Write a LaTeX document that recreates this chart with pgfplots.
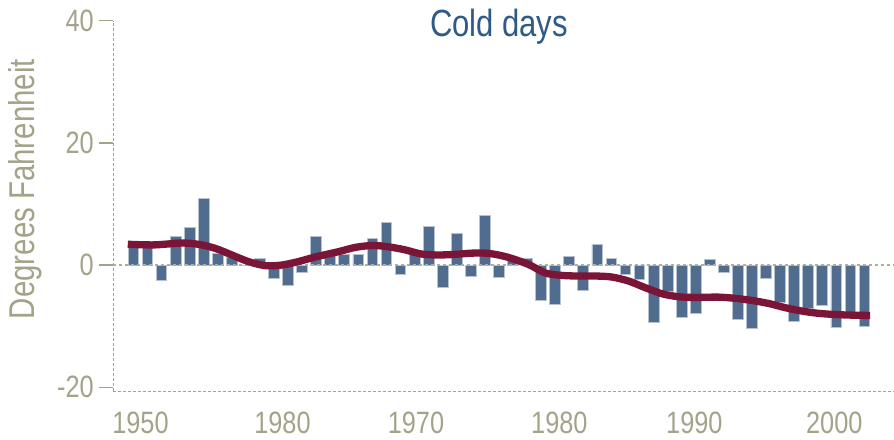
\documentclass[border=0pt]{standalone}
\usepackage{pgfplots}
\pgfplotsset{compat=1.18}
\usepackage{pgfplotstable}
\usepackage{fontspec}
\setmainfont{Liberation Sans}[FakeStretch=0.82]
\definecolor{barblue}{HTML}{506C8F}
\definecolor{baredge}{HTML}{B8C2CF}
\definecolor{maroon}{HTML}{7B1538}
\definecolor{titleblue}{HTML}{2E5A87}
\definecolor{khaki}{HTML}{A3A38A}
\definecolor{zeroline}{HTML}{B0B098}
\pgfplotstableread{
x y
0 3.5
1 3.3
2 -2.6
3 4.7
4 6.1
5 10.9
6 1.9
7 1.3
8 0
9 1.0
10 -2.2
11 -3.4
12 -1.2
13 4.6
14 1.5
15 1.8
16 1.8
17 4.3
18 7.0
19 -1.5
20 1.7
21 6.3
22 -3.7
23 5.1
24 -1.9
25 8.1
26 -2.0
27 0.9
28 1.0
29 -5.8
30 -6.5
31 1.4
32 -4.2
33 3.4
34 1.0
35 -1.6
36 -2.3
37 -9.4
38 -4.35
39 -8.6
40 -8.0
41 0.95
42 -1.15
43 -8.9
44 -10.4
45 -2.2
46 -6.1
47 -9.2
48 -7.05
49 -6.6
50 -10.2
51 -8.3
52 -10.0
}\bars
\pgfplotstableread{
x y
-0.4 3.4
1.5 3.3
3.4 3.6
4.6 3.4
5.8 2.75
7.0 1.65
8.2 0.55
9.4 -0.1
10.55 0.0
11.7 0.55
12.9 1.3
14.6 2.2
15.8 2.9
17.0 3.2
18.1 3.0
19.3 2.5
20.5 1.8
21.7 1.65
22.9 1.75
24.1 1.95
25.3 1.9
26.6 1.3
28.1 0.1
29.3 -1.3
30.5 -1.7
31.7 -1.8
32.9 -1.8
34.0 -1.95
35.2 -2.6
36.4 -3.7
37.6 -4.7
38.8 -5.2
40.0 -5.3
41.6 -5.25
42.8 -5.45
44.0 -5.8
45.2 -6.3
46.4 -7.0
47.6 -7.55
48.7 -7.9
49.9 -8.1
51.1 -8.2
52.4 -8.25
}\trend
\begin{document}
\begin{tikzpicture}
\begin{axis}[
  at={(113.3bp,48.5bp)}, anchor=south west,
  scale only axis, width=780.7bp, height=370.8bp,
  xmin=-1.43, xmax=54.1, ymin=-20.7, ymax=40,
  axis lines=left,
  axis line style={-, khaki, line width=1.3bp, dash pattern=on 3bp off 2bp},
  xtick={0.5,10.6,20.1,30.3,39.9,49.85},
  xticklabels={1950,1980,1970,1980,1990,2000},
  ytick={-20,0,20,40},
  yticklabels={-20,0,20,40},
  tick align=outside,
  major tick length=14bp,
  x tick style={draw=none},
  y tick style={khaki, line width=1.3bp, solid},
  xticklabel style={font=\fontsize{31}{31}\selectfont, text=khaki, yshift=-3bp},
  yticklabel style={font=\fontsize{31}{31}\selectfont, text=khaki, xshift=-2bp},
  clip=false,
]
\addplot[ybar, bar width=10.8bp, fill=barblue, draw=baredge, line width=0.9bp] table[x=x,y=y]{\bars};
\draw[zeroline, line width=1.6bp, dash pattern=on 3bp off 3bp] (axis cs:-1.43,0) -- (axis cs:54.1,0);
\addplot[maroon, line width=7.3bp, smooth, line cap=butt, no marks] table[x=x,y=y]{\trend};
\node[anchor=base, text=titleblue, font=\fontsize{38}{38}\selectfont] at ([xshift=-4.6bp,yshift=-16bp]rel axis cs:0.5,1) {Cold days};
\node[rotate=90, anchor=center, text=khaki, font=\fontsize{36}{36}\selectfont] at ([xshift=-87.8bp]rel axis cs:0,0.546) {Degrees Fahrenheit};
\end{axis}
\pgfresetboundingbox
\path[use as bounding box] (0,0) rectangle (894bp,440bp);
\end{tikzpicture}
\end{document}
